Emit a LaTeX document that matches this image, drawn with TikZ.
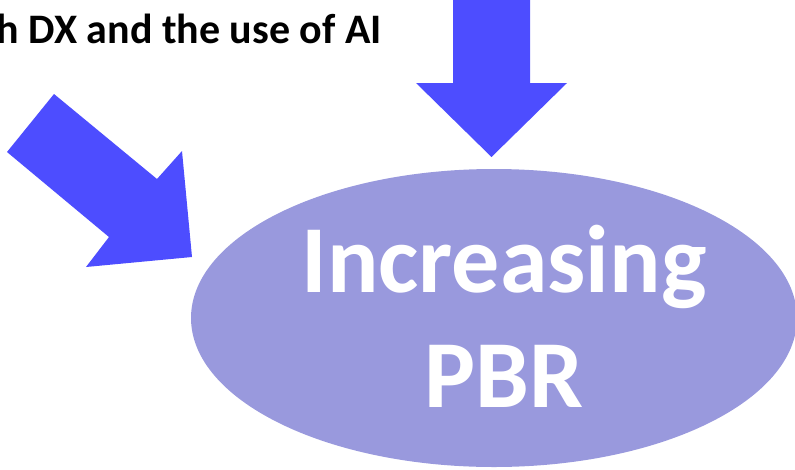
\documentclass[tikz,border=0pt]{standalone}
\usepackage{fontspec}
\setmainfont{Carlito}
\usepackage{tikz}
\usetikzlibrary{positioning}
\definecolor{ArrowBlue}{HTML}{4D4DFF}
\definecolor{GoalFill}{HTML}{9999DD}

\begin{document}
\begin{tikzpicture}[x=1pt, y=-1pt]
      \useasboundingbox (0,0) rectangle (795,469);
      % heading, cut at the left edge
      \node[anchor=base east, inner sep=0pt, font=\bfseries\fontsize{42}{50}\selectfont]
      (topic) at (382,43) {h DX and the use of AI};
      % the two block arrows
      \fill[ArrowBlue] (54,94) -- (157,179) -- (182,151) -- (192,257)
      -- (86,267) -- (109,237) -- (7,152) -- cycle
      ;
      \fill[ArrowBlue] (453,0) -- (453,83) -- (416,83) -- (491.5,157)
      -- (567,83) -- (530,83) -- (530,0) -- cycle
      ;
      % goal
      \fill[GoalFill] (494,318) ellipse [x radius=303, y radius=149];
      \node[anchor=base, inner sep=0pt, white,
      font=\bfseries\fontsize{96}{115}\selectfont] (inc) at (504,292) {Increasing};
      \node[anchor=base, inner sep=0pt, white,
      font=\bfseries\fontsize{96}{115}\selectfont] (pbr) at (504,407) {PBR};
    \end{tikzpicture}
\end{document}
